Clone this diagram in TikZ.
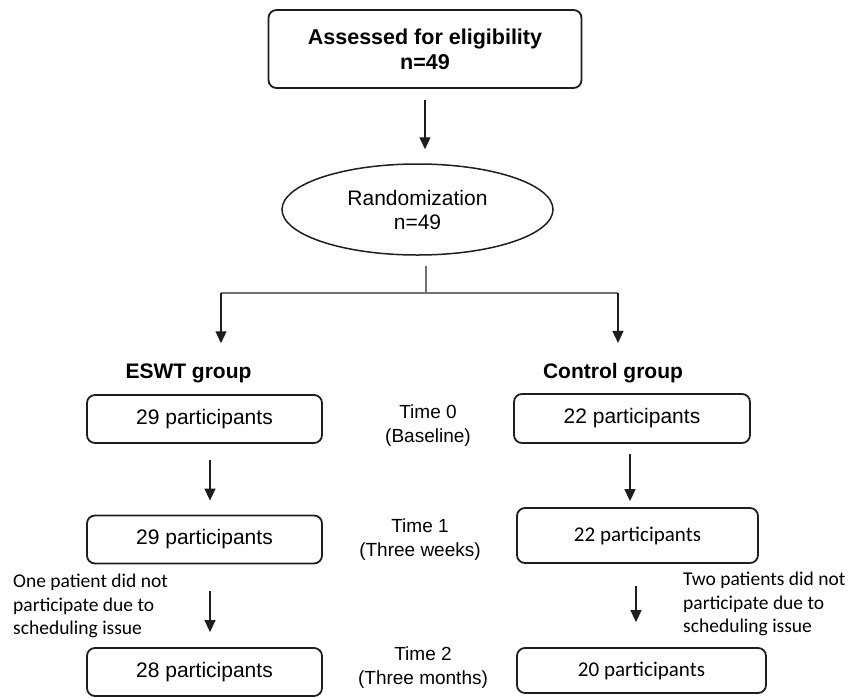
\documentclass[tikz,border=0pt]{standalone}
\usepackage{fontspec}
\setmainfont{Liberation Sans}
\newfontfamily\calfont{Carlito}
\usetikzlibrary{arrows.meta,positioning,calc,shapes.geometric}
\definecolor{mLine}{HTML}{1E1E1E}
\definecolor{mBranch}{HTML}{707070}
\tikzset{
  stagebox/.style={draw=mLine,line width=1.8pt,rounded corners=8pt,inner sep=0pt,font=\fontsize{21}{25}\selectfont},
  flow/.style={-{Triangle[length=12pt,width=11pt]},line width=1.3pt,draw=mLine},
  branch/.style={draw=mBranch,line width=1.2pt},
  timelabel/.style={align=center,inner sep=0pt,font=\fontsize{19}{24}\selectfont},
  note/.style={align=left,anchor=west,inner sep=0pt,font=\calfont\fontsize{19.5}{23.5}\selectfont},
  grouplabel/.style={inner sep=0pt,font=\bfseries\fontsize{21}{25}\selectfont}
}

\begin{document}
\begin{tikzpicture}[x=1pt,y=-1pt]
\useasboundingbox (0,0) rectangle (857,697);
\node[stagebox,minimum width=313pt,minimum height=78pt,align=center,font=\bfseries\fontsize{21.5}{25}\selectfont] (assess) at (425,49) {Assessed for eligibility\\n=49};
\node[ellipse,draw=mLine,line width=1.5pt,minimum width=271pt,minimum height=91pt,inner sep=0pt,align=center,font=\fontsize{21}{24}\selectfont] (rand) at (417.5,209.5) {Randomization\\n=49};
\draw[flow,shorten <=11pt,shorten >=14pt] (assess.south) -- (assess.south |- rand.north);

\coordinate (split) at (426,293);
\coordinate (bl) at (221,293);
\coordinate (br) at (618,293);
\node[grouplabel] (eswt) at (188.5,373) {ESWT group};
\node[grouplabel] (ctrl) at (613,373) {Control group};
\draw[branch,shorten <=10pt] (rand.south -| split) -- (split);
\draw[branch] (bl) -- (br);
\draw[flow,shorten >=20pt] (bl) -- (bl |- eswt.north);
\draw[flow,shorten >=20pt] (br) -- (br |- ctrl.north);

\foreach \n/\y/\t in {1/419/29,2/539.5/29,3/672/28}
  \node[stagebox,minimum width=235pt,minimum height=48pt] (e\n) at (204.5,\y) {\t\ participants};
\node[stagebox,minimum width=236pt,minimum height=49pt] (c1) at (632,418.5) {22 participants};
\node[stagebox,minimum width=241pt,minimum height=55pt,font=\calfont\fontsize{21}{25}\selectfont] (c2) at (637.5,535.5) {22 participants};
\node[stagebox,minimum width=249pt,minimum height=45pt,font=\calfont\fontsize{21}{25}\selectfont] (c3) at (641.5,670.5) {20 participants};

\draw[flow,shorten <=16pt,shorten >=14pt] ([xshift=5.5pt]e1.south) -- ([xshift=5.5pt]e1.south |- e2.north);
\draw[flow,shorten <=27pt,shorten >=15pt] ([xshift=5.5pt]e2.south) -- ([xshift=5.5pt]e2.south |- e3.north);
\draw[flow,shorten <=10pt,shorten >=6pt] ([xshift=-2pt]c1.south) -- ([xshift=-2pt]c1.south |- c2.north);
\draw[flow,shorten <=22pt,shorten >=25pt] ([xshift=-1.5pt]c2.south) -- ([xshift=-1.5pt]c2.south |- c3.north);

\node[timelabel] (t0) at (428,426) {Time 0\\(Baseline)};
\node[timelabel] (t1) at (420,540) {Time 1\\(Three weeks)};
\node[timelabel] (t2) at (423,668) {Time 2\\(Three months)};

\node[note] (dropE) at (13,606) {One patient did not\\participate due to\\scheduling issue};
\node[note] (dropC) at (683,604) {Two patients did not\\participate due to\\scheduling issue};
\end{tikzpicture}
\end{document}
